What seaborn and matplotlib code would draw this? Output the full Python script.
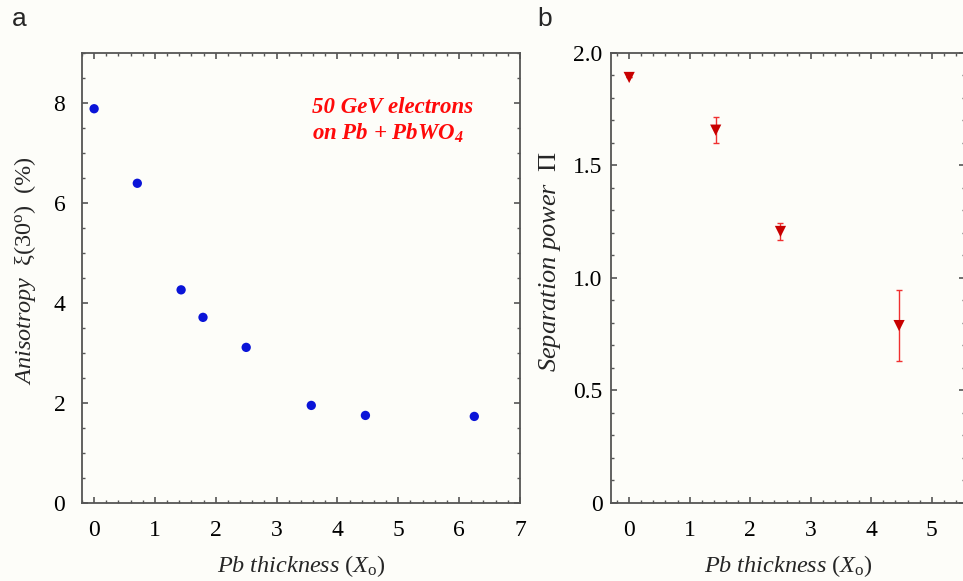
import numpy as np
import pandas as pd
import matplotlib
matplotlib.use("Agg")
import matplotlib.pyplot as plt
from matplotlib.ticker import MultipleLocator
import seaborn as sns

# dados
espessura_a = [0.0, 0.71, 1.43, 1.79, 2.50, 3.57, 4.46, 6.25]
anisotropia = [7.88, 6.39, 4.26, 3.71, 3.11, 1.95, 1.75, 1.73]

espessura_b = [0.0, 1.43, 2.50, 4.46]
separacao = [1.89, 1.656, 1.206, 0.788]
erro_sep = [0.0, 0.059, 0.038, 0.156]

sns.set_theme(style="ticks")
plt.rcParams.update({
    "font.family": ["Liberation Serif", "DejaVu Serif"],
    "mathtext.fontset": "custom",
    "mathtext.rm": "Liberation Serif",
    "mathtext.it": "Liberation Serif:italic",
    "mathtext.bf": "Liberation Serif:bold",
    "mathtext.bfit": "Liberation Serif:bold:italic",
    "axes.edgecolor": "#555555",
    "axes.linewidth": 1.3,
    "xtick.direction": "in",
    "ytick.direction": "in",
    "xtick.top": True,
    "ytick.right": True,
    "xtick.color": "#555555",
    "ytick.color": "#555555",
    "xtick.labelcolor": "black",
    "ytick.labelcolor": "black",
    "xtick.major.size": 4.5,
    "ytick.major.size": 4.5,
    "xtick.minor.size": 2.5,
    "ytick.minor.size": 2.5,
    "xtick.major.width": 1.2,
    "ytick.major.width": 1.2,
    "xtick.minor.width": 1.0,
    "ytick.minor.width": 1.0,
    "xtick.minor.visible": True,
    "ytick.minor.visible": True,
    "xtick.labelsize": 17,
    "ytick.labelsize": 17,
    "xtick.major.pad": 12,
    "ytick.major.pad": 12,
    "axes.labelsize": 17.5,
})

fundo = "#fdfdf9"
fig = plt.figure(figsize=(9.63, 5.81), dpi=100, facecolor=fundo)
ax_a = fig.add_axes([0.0851, 0.1343, 0.4548, 0.775], facecolor=fundo)
ax_b = fig.add_axes([0.6345, 0.1343, 0.3676, 0.775], facecolor=fundo)

df_a = pd.DataFrame({"x": espessura_a, "y": anisotropia})
df_b = pd.DataFrame({"x": espessura_b, "y": separacao, "err": erro_sep})

# Painel a
sns.scatterplot(data=df_a, x="x", y="y", ax=ax_a, color="#0a14d8", s=45,
                edgecolor="none", zorder=3)
ax_a.set_xlim(-0.2, 7.0)
ax_a.set_ylim(0, 9)
ax_a.xaxis.set_major_locator(MultipleLocator(1))
ax_a.xaxis.set_minor_locator(MultipleLocator(0.2))
ax_a.yaxis.set_major_locator(MultipleLocator(2))
ax_a.yaxis.set_minor_locator(MultipleLocator(0.5))
ax_a.set_xlabel(r"$\mathit{Pb\ thickness\ (X}_{\mathrm{o}}\mathit{)}$")
ax_a.set_ylabel(r"$\mathit{Anisotropy}\ \ \mathrm{\xi(30^{o})}\ \ \mathit{(\%)}$")
ax_a.xaxis.set_label_coords(0.5, -0.112)
ax_a.yaxis.set_label_coords(-0.101, 0.516)
ax_a.text(3.59, 8.12, "50 GeV electrons", color="#ff0a0a", fontsize=16.5,
          fontweight="bold", style="italic", va="top", ha="left")
ax_a.text(3.59, 7.26, r"on Pb + PbWO$_{\mathbfit{4}}$", color="#ff0a0a", fontsize=16.5,
          fontweight="bold", style="italic", va="baseline", ha="left")

# Painel b
ax_b.errorbar(df_b["x"], df_b["y"], yerr=df_b["err"], fmt="none",
              ecolor="#f03030", elinewidth=1.0, capsize=2.5, capthick=1.0, zorder=2)
sns.scatterplot(data=df_b, x="x", y="y", ax=ax_b, color="#c80000", marker="v",
                s=65, edgecolor="none", zorder=3)
ax_b.set_xlim(-0.3, 5.55)
ax_b.set_ylim(0, 2.0)
ax_b.xaxis.set_major_locator(MultipleLocator(1))
ax_b.xaxis.set_minor_locator(MultipleLocator(0.2))
ax_b.yaxis.set_major_locator(MultipleLocator(0.5))
ax_b.yaxis.set_minor_locator(MultipleLocator(0.1))
ax_b.yaxis.set_major_formatter(plt.FuncFormatter(lambda v, p: "0" if v == 0 else f"{v:.1f}"))
ax_b.tick_params(axis="y", which="major", pad=6)
ax_b.set_xlabel(r"$\mathit{Pb\ thickness\ (X}_{\mathrm{o}}\mathit{)}$")
ax_b.set_ylabel(r"$\mathit{Separation\ power}\ \ \mathrm{\Pi}$", fontsize=19)
ax_b.xaxis.set_label_coords(0.5, -0.112)
ax_b.yaxis.set_label_coords(-0.135, 0.537)

fig.text(0.012, 0.946, "a", fontsize=19, family="Liberation Sans", va="bottom")
fig.text(0.558, 0.946, "b", fontsize=19, family="Liberation Sans", va="bottom")

fig.savefig("out.png", dpi=100, facecolor=fundo)
